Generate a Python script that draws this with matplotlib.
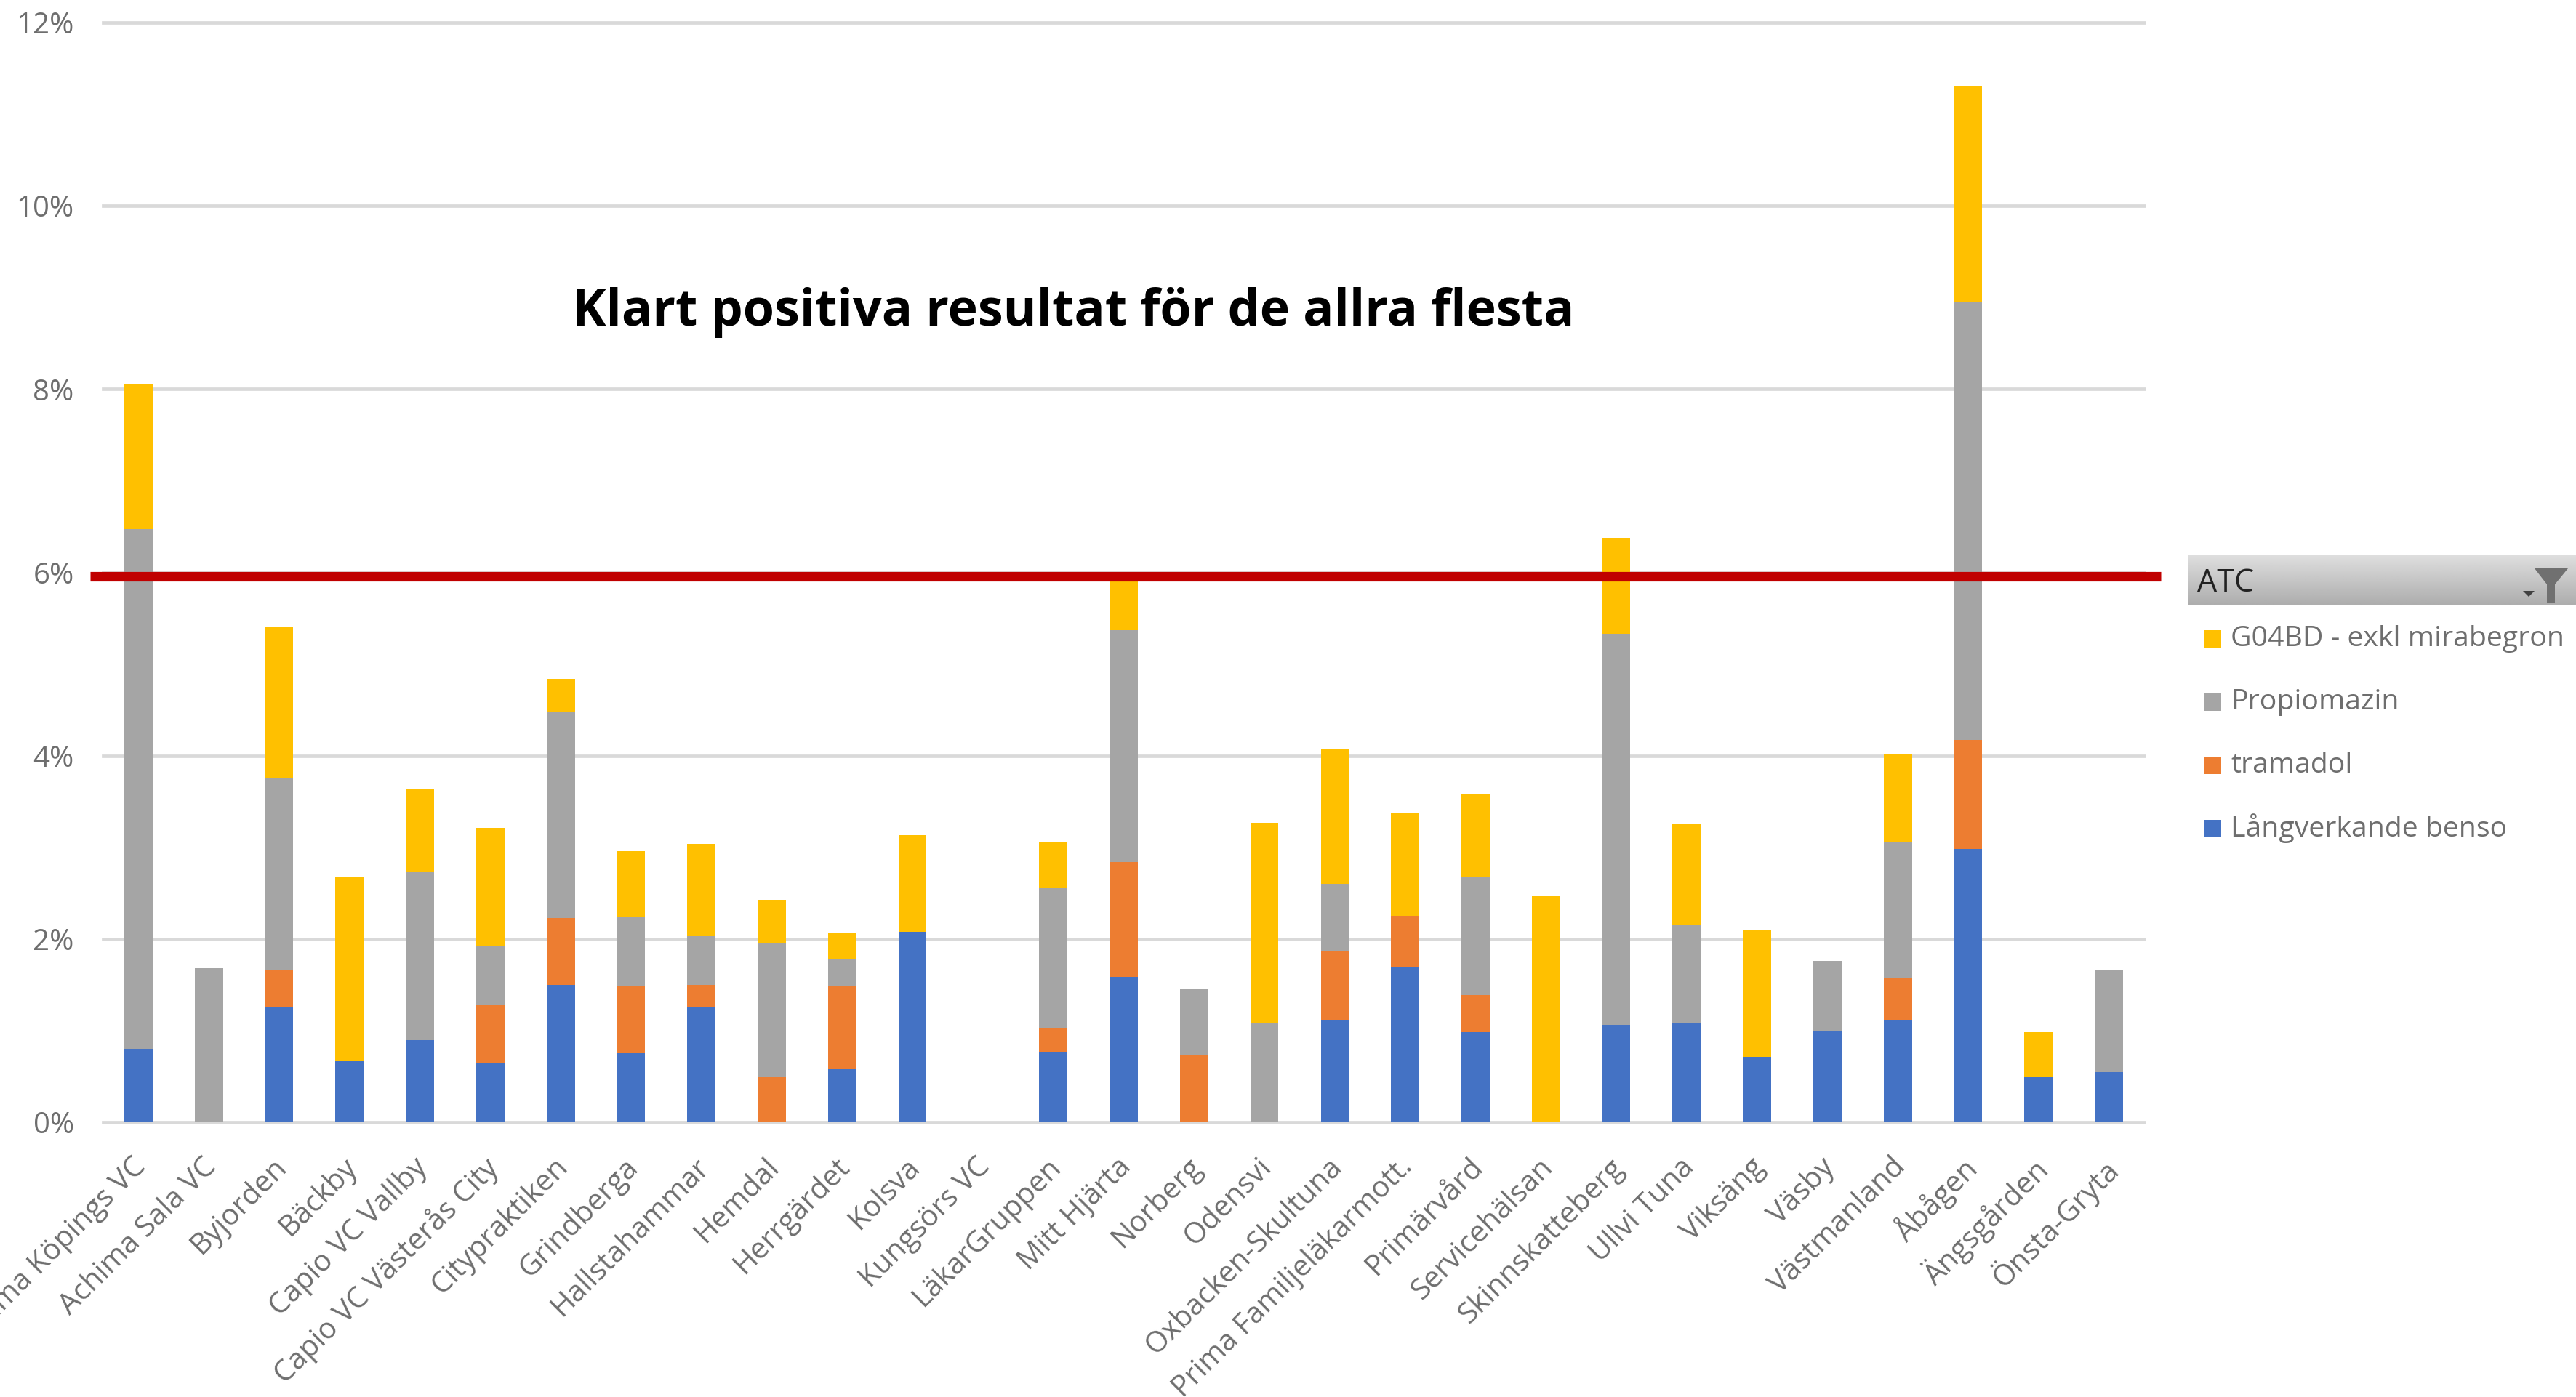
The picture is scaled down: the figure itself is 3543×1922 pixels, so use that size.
import numpy as np
import matplotlib
matplotlib.use("Agg")
import matplotlib.pyplot as plt
from matplotlib.patches import Rectangle, Polygon
from matplotlib.transforms import ScaledTranslation

W, H = 3543, 1922
FONT = "Open Sans"

categories = ["Achima Köpings VC", "Achima Sala VC", "Byjorden", "Bäckby", "Capio VC Vallby",
              "Capio VC Västerås City", "Citypraktiken", "Grindberga", "Hallstahammar", "Hemdal",
              "Herrgärdet", "Kolsva", "Kungsörs VC", "LäkarGruppen", "Mitt Hjärta", "Norberg",
              "Odensvi", "Oxbacken-Skultuna", "Prima Familjeläkarmott.", "Primärvård",
              "Servicehälsan", "Skinnskatteberg", "Ullvi Tuna", "Viksäng", "Väsby",
              "Västmanland", "Åbågen", "Ängsgården", "Önsta-Gryta"]
langverkande = [.80, 0, 1.26, .67, .90, .65, 1.50, .75, 1.26, 0, .58, 2.08, 0, .76, 1.59, 0, 0,
                1.12, 1.70, .98, 0, 1.06, 1.08, .71, 1.00, 1.12, 2.98, .49, .55]
tramadol = [0, 0, .40, 0, 0, .63, .73, .74, .24, .49, .91, 0, 0, .26, 1.25, .73, 0,
            .74, .55, .41, 0, 0, 0, 0, 0, .45, 1.19, 0, 0]
propiomazin = [5.67, 1.68, 2.09, 0, 1.83, .65, 2.24, .75, .53, 1.46, .29, 0, 0, 1.53, 2.53, .72, 1.09,
               .74, 0, 1.28, 0, 4.27, 1.08, 0, .76, 1.49, 4.78, 0, 1.11]
g04bd = [1.59, 0, 1.66, 2.01, .91, 1.28, .37, .72, 1.01, .48, .29, 1.05, 0, .50, .58, 0, 2.18,
         1.48, 1.13, .91, 2.47, 1.05, 1.09, 1.38, 0, .96, 2.35, .49, 0]
series_names = ["Långverkande benso", "tramadol", "Propiomazin", "G04BD - exkl mirabegron"]
series_colors = ["#4472C4", "#ED7D31", "#A5A5A5", "#FFC000"]
y_ticks = [0, 2, 4, 6, 8, 10, 12]
target = 5.96
title = "Klart positiva resultat för de allra flesta"
legend_title = "ATC"

fig = plt.figure(figsize=(W / 100, H / 100), dpi=100, facecolor="white")
ax = fig.add_axes([142 / W, 1 - 1544 / H, (2949 - 142) / W, (1544 - 31) / H])
x = np.arange(len(categories))
bottom = np.zeros(len(categories))
for vals, name, col in zip([langverkande, tramadol, propiomazin, g04bd], series_names, series_colors):
    ax.bar(x, vals, width=0.40, bottom=bottom, color=col, label=name, zorder=3)
    bottom += np.array(vals)

ax.set_xlim(-0.5, len(categories) - 0.5)
ax.set_ylim(0, 12)
ax.set_yticks(y_ticks)
ax.set_yticklabels([f"{v}%" for v in y_ticks], fontsize=29, color="#6E6E6E", family=FONT)
ax.tick_params(axis="y", length=0, pad=29)
ax.tick_params(axis="x", length=0, pad=30)
ax.grid(axis="y", color="#D9D9D9", lw=3.4, zorder=0)
for grid_line in ax.get_ygridlines():
    grid_line.set_clip_on(False)
for s in ax.spines.values():
    s.set_visible(False)
ax.set_xticks(x)
ax.set_xticklabels(categories, rotation=45, ha="right", rotation_mode="anchor",
                   fontsize=29, color="#6E6E6E", family=FONT)
offset = ScaledTranslation(-10 / 100, 0, fig.dpi_scale_trans)
for lab in ax.get_xticklabels():
    lab.set_transform(lab.get_transform() + offset)

ax.plot([(124 - 142) / 2807, (2972 - 142) / 2807], [target, target], color="#C00000", lw=9.5,
        transform=ax.get_yaxis_transform(), clip_on=False, zorder=5, solid_capstyle="butt")

fig.text(1476 / W, 1 - 430 / H, title, fontsize=50.4, fontweight="bold", color="black",
         family=FONT, ha="center", va="center")

# Filter panel
hdr = fig.add_axes([3010 / W, 1 - 832 / H, (W - 3010) / W, 68 / H])
hdr.imshow(np.linspace(0.87, 0.68, 64).reshape(-1, 1), cmap="gray", vmin=0, vmax=1, aspect="auto")
hdr.axis("off")
fig.text(3022 / W, 1 - 803 / H, legend_title, fontsize=31, color="#222222", family=FONT, va="center")
tf = fig.transFigure
def P(px, py):
    return (px / W, 1 - py / H)
fig.add_artist(Polygon([P(3486, 782), P(3532, 782), P(3514, 804), P(3514, 830), P(3503, 830), P(3503, 804)],
                       transform=tf, color="#707070", lw=0, zorder=6))
fig.add_artist(Polygon([P(3470, 813), P(3486, 813), P(3478, 821)], transform=tf, color="#404040", lw=0, zorder=6))
for name, col, yy in zip(series_names[::-1], series_colors[::-1], [879, 966, 1053, 1140]):
    fig.add_artist(Rectangle(P(3031, yy + 12), 24 / W, 24 / H, transform=tf, color=col, lw=0))
    fig.text(3068 / W, 1 - yy / H, name, fontsize=28.3, color="#6E6E6E", family=FONT, va="center")

fig.savefig("out.png", dpi=100, facecolor="white")
